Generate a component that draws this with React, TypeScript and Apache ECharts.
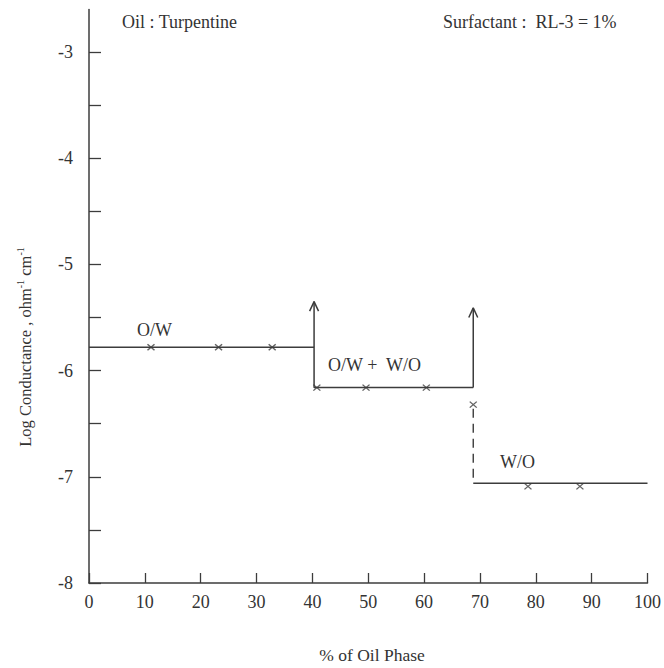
import React, { useEffect, useRef } from "react";
import * as echarts from "echarts";

// ---- data ----
const xTickValues = [0, 10, 20, 30, 40, 50, 60, 70, 80, 90, 100];
const yLabelValues = [-8, -7, -6, -5, -4, -3];
const yTickValues = [-8, -7.5, -7, -6.5, -6, -5.5, -5, -4.5, -4, -3.5, -3];

const owLevel = -5.78;
const mixedLevel = -6.16;
const woLevel = -7.06;
const firstInversion = 40.3;
const secondInversion = 68.8;
const arrowTopFirst = -5.35;
const arrowTopSecond = -5.41;

const owPoints = [
  [11.1, -5.78],
  [23.2, -5.78],
  [32.8, -5.78],
];
const mixedPoints = [
  [40.8, -6.16],
  [49.6, -6.16],
  [60.4, -6.16],
  [68.8, -6.32],
];
const woPoints = [
  [78.6, -7.09],
  [87.9, -7.09],
];

const FONT = "'Liberation Serif', 'Times New Roman', serif";
const INK = "#333333";
const LINE = "#3c3c3c";

export default function App() {
  const ref = useRef<HTMLDivElement>(null);

  useEffect(() => {
    document.body.style.margin = "0";
    if (!ref.current) return;
    const chart = echarts.init(ref.current, undefined, { renderer: "svg" });

    const lineBase = {
      type: "line" as const,
      symbol: "none",
      silent: true,
      lineStyle: { color: LINE, width: 1.5 },
    };
    const chevron = (x: number, top: number) => [
      [x - 0.8, top - 0.09],
      [x, top],
      [x + 0.8, top - 0.09],
    ];
    const markerSeries = (name: string, data: number[][]) => ({
      name,
      type: "scatter" as const,
      data,
      symbol: "path://M0,0L10,10M10,0L0,10",
      symbolSize: [7, 6],
      itemStyle: { color: "none", borderColor: LINE, borderWidth: 1.3 },
      silent: true,
      z: 5,
    });
    const note = (text: string, x: number, y: number, size = 18) => ({
      type: "text",
      x,
      y,
      style: { text, font: `${size}px ${FONT}`, fill: INK, textVerticalAlign: "middle" },
    });

    chart.setOption({
      animation: false,
      backgroundColor: "#ffffff",
      grid: { left: 89, right: 14, top: 9.5, bottom: 85 },
      xAxis: {
        type: "value",
        min: 0,
        max: 100,
        splitLine: { show: false },
        axisLine: { show: true, onZero: false, lineStyle: { color: LINE, width: 1.5 } },
        axisTick: {
          show: true,
          inside: true,
          length: 10,
          customValues: xTickValues,
          lineStyle: { color: LINE, width: 1.3 },
        },
        axisLabel: {
          customValues: xTickValues,
          margin: 10,
          color: INK,
          fontFamily: FONT,
          fontSize: 18,
        },
      },
      yAxis: {
        type: "value",
        min: -8,
        max: -2.6,
        splitLine: { show: false },
        axisLine: { show: true, onZero: false, lineStyle: { color: LINE, width: 1.5 } },
        axisTick: {
          show: true,
          inside: true,
          length: 12,
          customValues: yTickValues,
          lineStyle: { color: LINE, width: 1.3 },
        },
        axisLabel: {
          customValues: yLabelValues,
          margin: 16,
          color: INK,
          fontFamily: FONT,
          fontSize: 18,
        },
      },
      series: [
        {
          ...lineBase,
          name: "step",
          data: [
            [0, owLevel],
            [firstInversion, owLevel],
            [firstInversion, mixedLevel],
            [secondInversion, mixedLevel],
          ],
        },
        {
          ...lineBase,
          name: "arrow1",
          data: [
            [firstInversion, owLevel],
            [firstInversion, arrowTopFirst],
          ],
        },
        { ...lineBase, name: "head1", data: chevron(firstInversion, arrowTopFirst) },
        {
          ...lineBase,
          name: "arrow2",
          data: [
            [secondInversion, mixedLevel],
            [secondInversion, arrowTopSecond],
          ],
        },
        { ...lineBase, name: "head2", data: chevron(secondInversion, arrowTopSecond) },
        {
          ...lineBase,
          name: "dashed",
          lineStyle: { color: LINE, width: 1.4, type: [9, 6] },
          data: [
            [secondInversion, mixedLevel - 0.2],
            [secondInversion, woLevel],
          ],
        },
        {
          ...lineBase,
          name: "wo",
          data: [
            [secondInversion, woLevel],
            [100, woLevel],
          ],
        },
        markerSeries("O/W", owPoints),
        markerSeries("O/W + W/O", mixedPoints),
        markerSeries("W/O", woPoints),
      ],
      graphic: [
        note("Oil : Turpentine", 122, 22),
        note("Surfactant :  RL-3 = 1%", 443, 22),
        note("O/W", 137, 330),
        note("O/W +  W/O", 328, 365),
        note("W/O", 500, 462),
        {
          type: "text",
          x: 372,
          y: 655,
          style: {
            text: "% of Oil Phase",
            font: `17.5px ${FONT}`,
            fill: INK,
            textAlign: "center",
            textVerticalAlign: "middle",
          },
        },
        {
          type: "text",
          x: 25,
          y: 347,
          rotation: Math.PI / 2,
          style: {
            text: "{a|Log Conductance , ohm}{s|-1}{a| cm}{s|-1}",
            fill: INK,
            textAlign: "center",
            textVerticalAlign: "middle",
            rich: {
              a: { fontFamily: FONT, fontSize: 16.5, lineHeight: 20, fill: INK },
              s: { fontFamily: FONT, fontSize: 10, lineHeight: 20, verticalAlign: "top", fill: INK },
            },
          },
        },
      ],
    });

    return () => chart.dispose();
  }, []);

  return <div ref={ref} style={{ width: 664, height: 668 }} />;
}
